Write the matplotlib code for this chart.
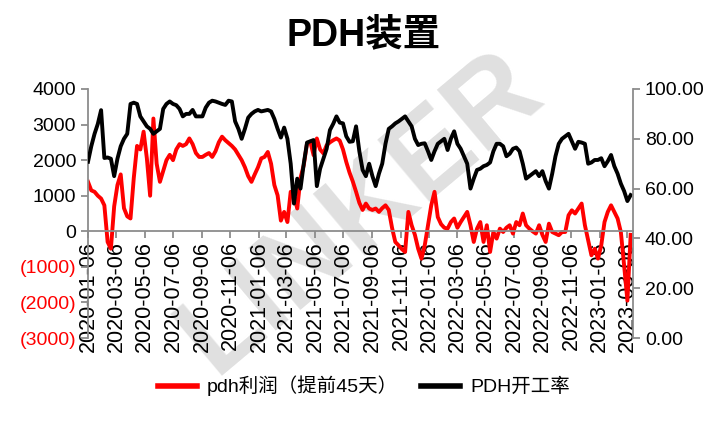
import matplotlib
matplotlib.use("Agg")
import matplotlib.pyplot as plt
import matplotlib.dates as mdates
from matplotlib.ticker import FuncFormatter
import numpy as np
import pandas as pd

plt.rcParams['font.family'] = ['Liberation Sans', 'Noto Sans CJK SC', 'DejaVu Sans']

# weekly data, 2020-01-06 .. 2023-03-13
start_date = '2020-01-06'

# PDH开工率 (%), right axis
pdh_rate = [
    70.8, 77, 82, 86, 91.5, 72.3, 72.5, 72, 65, 72,
    77, 80, 82, 94, 94.5, 94, 89, 87, 85, 84,
    82, 83, 84, 92, 94, 95, 94, 93.5, 92, 89,
    90, 90, 91.6, 89, 89, 89, 92.5, 94.5, 95.3, 95,
    94.5, 94, 93.6, 95.3, 95, 87, 84, 80, 84, 88.5,
    90, 91, 91.6, 91, 91.3, 91.6, 91, 88, 84, 80.5,
    84.5, 80, 70, 54, 64, 60, 70, 78.5, 79, 79.5,
    61, 68, 72, 76, 83.5, 86, 89, 86.5, 86.2, 81,
    78.8, 79, 85, 75, 67.5, 65, 70, 65, 61, 66,
    70, 78, 84, 85, 86.2, 87, 88, 89, 87, 85,
    80, 77.5, 78, 78.2, 75, 71.5, 75, 78, 79, 80,
    75.5, 80, 83, 78, 76, 73, 70, 60, 64, 67.5,
    68, 69, 69.5, 70.5, 75, 78, 78, 77, 73, 74,
    76, 76.5, 75, 70, 64, 65, 66, 67, 65, 67,
    63, 60, 66, 73, 78, 80, 81, 82, 79, 76,
    78.8, 78.5, 78, 70, 70.5, 71.5, 71.5, 72.2, 69, 71,
    73.5, 69, 66, 62, 59, 55, 57.4,
]

# pdh利润（提前45天）, left axis
pdh_profit = [
    1390, 1150, 1110, 1000, 920, 730, -300, -490, 700, 1300,
    1600, 650, 420, 360, 1500, 2400, 2300, 2800, 2050, 1000,
    3170, 1900, 1390, 1700, 2000, 2150, 2000, 2300, 2450, 2400,
    2450, 2610, 2450, 2200, 2090, 2090, 2150, 2200, 2090, 2250,
    2500, 2660, 2560, 2480, 2400, 2300, 2150, 2000, 1800, 1550,
    1390, 1600, 1800, 2050, 2090, 2230, 1900, 1300, 1010, 300,
    545, 260, 1110, 1010, 640, 1500, 1860, 2470, 2520, 2140,
    2610, 2300, 2190, 2420, 2500, 2560, 2610, 2550, 2300, 1950,
    1650, 1400, 1110, 800, 600, 780, 640, 600, 640, 545,
    650, 730, 600, 100, -300, -395, -500, -580, 545, 170,
    -100, -490, -770, -400, 170, 730, 1110, 400, 200, 100,
    75, 260, 360, 100, 260, 400, 545, 170, -300, 75,
    260, -300, 170, -580, -20, -205, 75, -20, 100, 170,
    -65, 260, 170, 500, 170, 75, 0, -65, 170, -100,
    -300, 215, -20, -65, -110, -20, -20, 450, 590, 500,
    640, 780, 170, -255, -675, -490, -770, -395, 260, 545,
    730, 545, 360, -20, -960, -1950, -100,
]

dates = pd.date_range(start_date, periods=len(pdh_rate), freq='7D')
left_ticks = [-3000, -2000, -1000, 0, 1000, 2000, 3000, 4000]
right_ticks = [0, 20, 40, 60, 80, 100]
date_ticks = pd.date_range('2020-01-01', '2023-03-06', freq='2MS') + pd.Timedelta(days=5)

fig = plt.figure(figsize=(7.28, 4.21), dpi=100)
ax = fig.add_axes([0.1209, 0.1971, 0.7486, 0.5915])
ax2 = ax.twinx()

red = '#ff0000'
gray = '#8c8c8c'

ax.plot(dates, pdh_profit, color=red, lw=2.8, solid_joinstyle='round')
ax2.plot(dates, pdh_rate, color='black', lw=2.8, solid_joinstyle='round')

# watermark
ax.text(0.5, 0.5, 'LINKER', transform=ax.transAxes, fontsize=84, fontweight='bold',
        color='#e0e0e0', rotation=40, ha='center', va='center', zorder=0)

ax.set_ylim(-3000, 4000)
ax.set_yticks(left_ticks)
ax.yaxis.set_major_formatter(FuncFormatter(
    lambda v, p: f'({abs(int(v))})' if v < 0 else f'{int(v)}'))

ax2.set_ylim(0, 100)
ax2.set_yticks(right_ticks)
ax2.yaxis.set_major_formatter(FuncFormatter(lambda v, p: f'{v:.2f}'))

ax.set_xlim(pd.Timestamp('2020-01-06'), pd.Timestamp('2023-03-18'))
ax.set_xticks(date_ticks)
ax.xaxis.set_major_formatter(mdates.DateFormatter('%Y-%m-%d'))
ax.spines['bottom'].set_position(('data', 0))

for a in (ax, ax2):
    a.spines['top'].set_visible(False)
    for s in ('left', 'right', 'bottom'):
        a.spines[s].set_color(gray)
        a.spines[s].set_linewidth(1.3)
    a.tick_params(colors=gray, length=5, width=1.3, labelsize=14, labelcolor='black')
ax2.spines['bottom'].set_visible(False)
ax2.spines['left'].set_visible(False)
ax.spines['right'].set_visible(False)
ax.tick_params(axis='x', labelsize=15.5, labelrotation=90, pad=2)
ax.patch.set_visible(False)

for lab, v in zip(ax.get_yticklabels(), left_ticks):
    if v < 0:
        lab.set_color(red)

fig.suptitle('PDH装置', x=0.5, y=0.96, fontsize=27, fontweight='bold')

h1, = ax.plot([], [], color=red, lw=4)
h2, = ax.plot([], [], color='black', lw=4)
fig.legend([h1, h2], ['pdh利润（提前45天）', 'PDH开工率'], loc='center',
           bbox_to_anchor=(0.5, 0.083), ncol=2, frameon=False, fontsize=14,
           handlelength=2.0, columnspacing=1.2, handletextpad=0.5)

fig.savefig('out.png', dpi=100)
